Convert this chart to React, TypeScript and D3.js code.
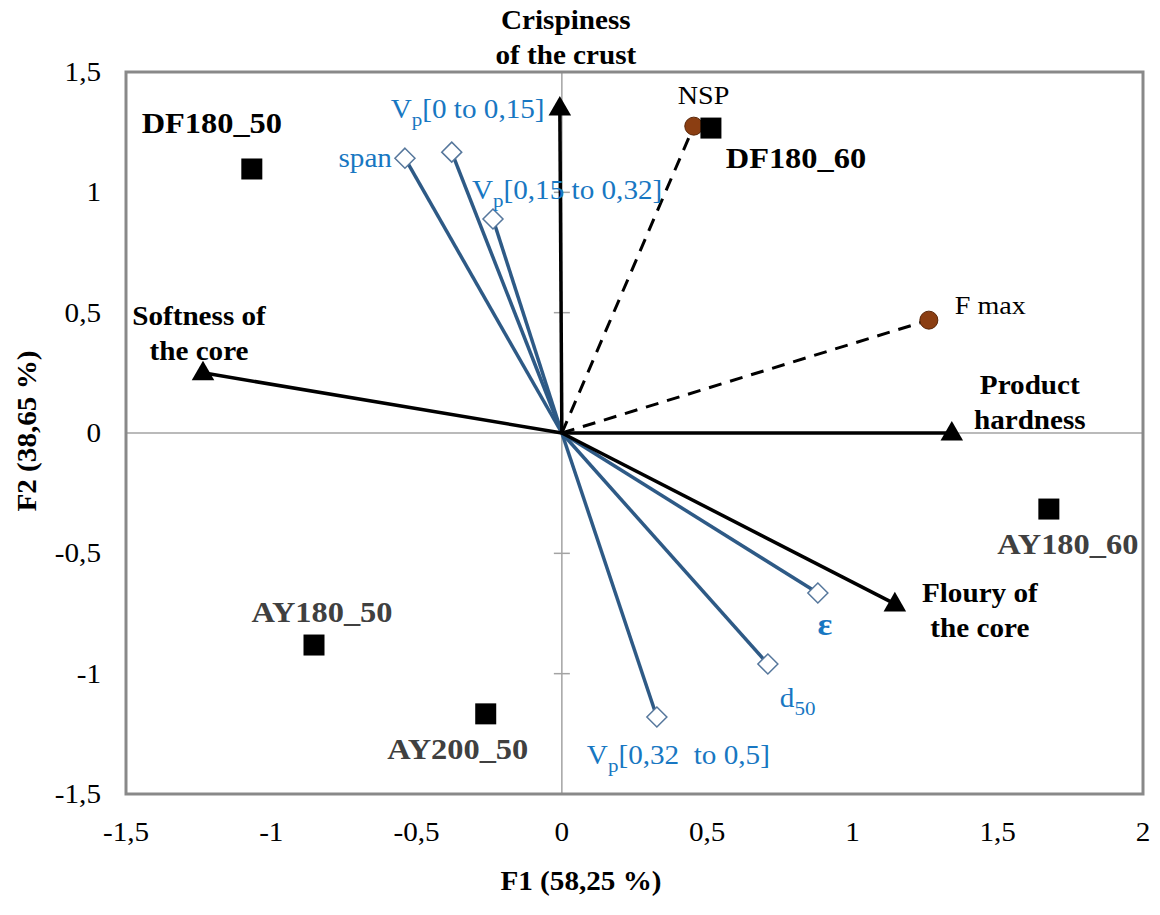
import React from 'react';
import * as d3 from 'd3';

// PCA biplot: F1 vs F2
const obsNames = ['DF180_50', 'DF180_60', 'AY180_60', 'AY180_50', 'AY200_50'];
const obsF1 = [-1.067, 0.513, 1.676, -0.853, -0.262];
const obsF2 = [1.097, 1.267, -0.316, -0.881, -1.167];

const sensoryNames = [['Crispiness', 'of the crust'], ['Softness of', 'the core'], ['Product', 'hardness'], ['Floury of', 'the core']];
const sensoryF1 = [-0.007, -1.235, 1.342, 1.146];
const sensoryF2 = [1.35, 0.25, 0, -0.71];

const structNames = ['span', 'Vp[0 to 0,15]', 'Vp[0,15 to 0,32]', 'ε', 'd50', 'Vp[0,32  to 0,5]'];
const structF1 = [-0.54, -0.379, -0.237, 0.881, 0.709, 0.327];
const structF2 = [1.142, 1.167, 0.889, -0.665, -0.96, -1.18];

const mechNames = ['NSP', 'F max'];
const mechF1 = [0.454, 1.263];
const mechF2 = [1.275, 0.469];

const xTicks = [-1.5, -1, -0.5, 0, 0.5, 1, 1.5, 2];
const yTicks = [-1.5, -1, -0.5, 0, 0.5, 1, 1.5];

// label placement (pixel offsets from the point, to the text baseline)
const obsLabelOffset: Record<string, [number, number]> = {
  DF180_50: [-40, -36],
  DF180_60: [85, 40],
  AY180_60: [19, 45],
  AY180_50: [8, -23],
  AY200_50: [-28, 45],
};
const sensoryLabelOffset: [number, number][] = [[6, -79], [-4, -48], [78, -39], [85, -2]];
const structLabel: Record<string, { dx: number; dy: number; anchor: string }> = {
  span: { dx: -13, dy: 9, anchor: 'end' },
  'Vp[0 to 0,15]': { dx: -61, dy: -34, anchor: 'start' },
  'Vp[0,15 to 0,32]': { dx: -21, dy: -20, anchor: 'start' },
  'ε': { dx: 7, dy: 42, anchor: 'middle' },
  d50: { dx: 12, dy: 43, anchor: 'start' },
  'Vp[0,32  to 0,5]': { dx: -70, dy: 47, anchor: 'start' },
};
const mechLabelOffset: [number, number][] = [[-16, -22], [26, -6]];

const W = 1160;
const H = 915;
const SX = 1.08; // the source text is a little wider than Times
const FONT = '"Liberation Serif", "Times New Roman", serif';
const BLUE_TEXT = '#1877c2';
const BLUE_LINE = '#2e5a86';

const fmt = (v: number) => String(v).replace('.', ',');

const T: React.FC<{
  x: number; y: number; size: number; bold?: boolean; anchor?: string; fill?: string; rotate?: number;
  children: React.ReactNode;
}> = ({ x, y, size, bold, anchor = 'middle', fill = '#000', rotate = 0, children }) => (
  <text
    transform={`translate(${x},${y}) rotate(${rotate}) scale(${SX},1)`}
    fontFamily={FONT}
    fontSize={size}
    fontWeight={bold ? 'bold' : 'normal'}
    textAnchor={anchor}
    fill={fill}
    style={{ whiteSpace: 'pre' }}
  >
    {children}
  </text>
);

// splits "Vp[...]" and "d50" into base + subscript
const subLabel = (name: string) => {
  if (name.startsWith('Vp')) {
    return (
      <>
        V<tspan dy={8} fontSize="0.72em">p</tspan><tspan dy={-8}>{name.slice(2)}</tspan>
      </>
    );
  }
  if (name === 'd50') {
    return (
      <>
        d<tspan dy={8} fontSize="0.72em">50</tspan>
      </>
    );
  }
  return name;
};

export default function App() {
  const x = d3.scaleLinear().domain([-1.5, 2]).range([126, 1143]);
  const y = d3.scaleLinear().domain([-1.5, 1.5]).range([794, 72]);
  const x0 = x(0);
  const y0 = y(0);

  const tri = d3.symbol().type(d3.symbolTriangle).size(220)();
  const diamond = (cx: number, cy: number, r: number) =>
    `M${cx},${cy - r}L${cx + r},${cy}L${cx},${cy + r}L${cx - r},${cy}Z`;

  return (
    <svg width={W} height={H} style={{ position: 'absolute', left: 0, top: 0, background: '#fff' }}>
      <rect width={W} height={H} fill="#fff" />

      {/* zero lines */}
      <line x1={x(-1.5)} x2={x(2)} y1={y0} y2={y0} stroke="#a3a3a3" strokeWidth={1.5} />
      <line x1={x0} x2={x0} y1={y(-1.5)} y2={y(1.5)} stroke="#a3a3a3" strokeWidth={1.5} />
      {yTicks.map((t) => (
        <line key={t} x1={x0 - 8} x2={x0 + 8} y1={y(t)} y2={y(t)} stroke="#a3a3a3" strokeWidth={1.5} />
      ))}

      {/* frame */}
      <rect x={x(-1.5)} y={y(1.5)} width={x(2) - x(-1.5)} height={y(-1.5) - y(1.5)} fill="none" stroke="#898989" strokeWidth={3} />

      {/* tick labels */}
      {yTicks.map((t) => (
        <T key={t} x={101} y={y(t) + 9} size={27} anchor="end">{fmt(t)}</T>
      ))}
      {xTicks.map((t) => (
        <T key={t} x={x(t)} y={841} size={27}>{fmt(t)}</T>
      ))}

      {/* axis titles */}
      <T x={581} y={890} size={27} bold>F1 (58,25 %)</T>
      <T x={36} y={431} size={27} bold rotate={-90}>F2 (38,65 %)</T>

      {/* structural vectors */}
      {structNames.map((n, i) => (
        <line key={n} x1={x0} y1={y0} x2={x(structF1[i])} y2={y(structF2[i])} stroke={BLUE_LINE} strokeWidth={3.5} />
      ))}

      {/* mechanical vectors (dashed) */}
      {mechNames.map((n, i) => (
        <line key={n} x1={x0} y1={y0} x2={x(mechF1[i])} y2={y(mechF2[i])} stroke="#000" strokeWidth={3} strokeDasharray="13 9" />
      ))}

      {/* sensory vectors */}
      {sensoryNames.map((n, i) => (
        <line key={n[0]} x1={x0} y1={y0} x2={x(sensoryF1[i])} y2={y(sensoryF2[i])} stroke="#000" strokeWidth={3.5} />
      ))}
      {sensoryNames.map((n, i) => (
        <path key={n[0]} d={tri ?? ''} transform={`translate(${x(sensoryF1[i])},${y(sensoryF2[i]) + 1})`} fill="#000" />
      ))}

      {/* markers */}
      {structNames.map((n, i) => (
        <path key={n} d={diamond(x(structF1[i]), y(structF2[i]), 10)} fill="#fff" stroke="#56779c" strokeWidth={1.5} />
      ))}
      {mechNames.map((n, i) => (
        <circle key={n} cx={x(mechF1[i])} cy={y(mechF2[i])} r={9} fill="#8b3e12" stroke="#5a2608" strokeWidth={1} />
      ))}
      {obsNames.map((n, i) => (
        <rect key={n} x={x(obsF1[i]) - 10.5} y={y(obsF2[i]) - 10.5} width={21} height={21} fill="#000" />
      ))}

      {/* labels */}
      {obsNames.map((n, i) => (
        <T key={n} x={x(obsF1[i]) + obsLabelOffset[n][0]} y={y(obsF2[i]) + obsLabelOffset[n][1]} size={30} bold
          fill={n.startsWith('AY') ? '#404040' : '#000'}>{n}</T>
      ))}
      {sensoryNames.map((n, i) => (
        <g key={n[0]}>
          <T x={x(sensoryF1[i]) + sensoryLabelOffset[i][0]} y={y(sensoryF2[i]) + sensoryLabelOffset[i][1]} size={27} bold>{n[0]}</T>
          <T x={x(sensoryF1[i]) + sensoryLabelOffset[i][0]} y={y(sensoryF2[i]) + sensoryLabelOffset[i][1] + 35} size={27} bold>{n[1]}</T>
        </g>
      ))}
      {structNames.map((n, i) => (
        <T key={n} x={x(structF1[i]) + structLabel[n].dx} y={y(structF2[i]) + structLabel[n].dy} size={n === 'ε' ? 32 : 27}
          bold={n === 'ε'} anchor={structLabel[n].anchor} fill={BLUE_TEXT}>{subLabel(n)}</T>
      ))}
      {mechNames.map((n, i) => (
        <T key={n} x={x(mechF1[i]) + mechLabelOffset[i][0]} y={y(mechF2[i]) + mechLabelOffset[i][1]} size={26} anchor="start">{n}</T>
      ))}
    </svg>
  );
}
